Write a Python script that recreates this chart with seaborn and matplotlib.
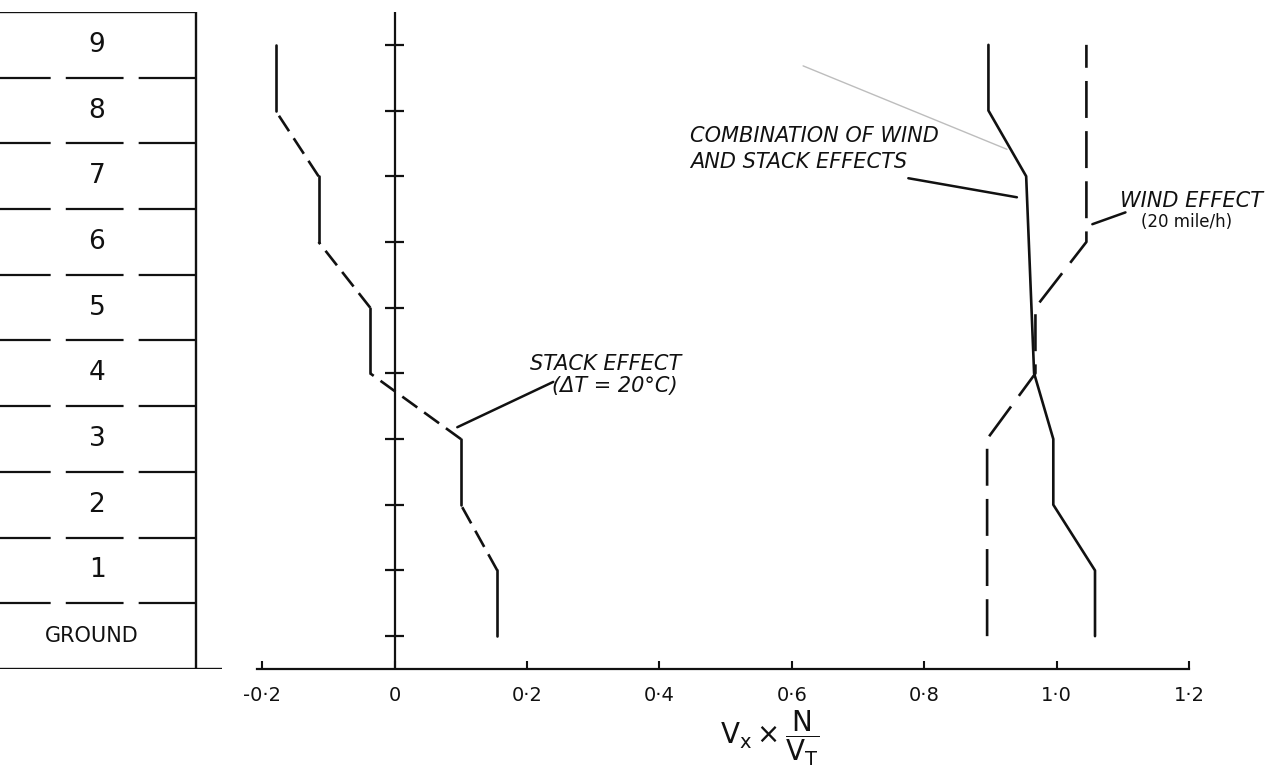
import matplotlib
matplotlib.use("Agg")
import matplotlib.pyplot as plt
import pandas as pd
import seaborn as sns

# Floor levels of the building section (0 = ground) and their labels
floor_levels = [0, 1, 2, 3, 4, 5, 6, 7, 8, 9]
floor_names = ["GROUND", "1", "2", "3", "4", "5", "6", "7", "8", "9"]

# Dimensionless flow Vx * N / VT at each level
stack_effect = [0.155, 0.155, 0.10, 0.10, -0.037, -0.037, -0.115, -0.115, -0.18, -0.18]
wind_effect = [0.895, 0.895, 0.895, 0.895, 0.968, 0.968, 1.045, 1.045, 1.045, 1.045]
combined_effect = [1.058, 1.058, 0.995, 0.995, 0.966, 0.962, 0.958, 0.954, 0.897, 0.897]

x_ticks = [-0.2, 0.0, 0.2, 0.4, 0.6, 0.8, 1.0, 1.2]
x_tick_labels = ["-0·2", "0", "0·2", "0·4", "0·6", "0·8", "1·0", "1·2"]

INK = "#111111"


def split_runs(name, values, kind_of):
    """Break a profile into runs of consecutive segments sharing a line style."""
    rows, run, prev = [], 0, None
    for i in range(len(values) - 1):
        kind = kind_of(values[i], values[i + 1])
        if kind != prev:
            run += 1
            rows.append(dict(run=f"{name}{run}", kind=kind,
                             level=floor_levels[i], value=values[i]))
        rows.append(dict(run=f"{name}{run}", kind=kind,
                         level=floor_levels[i + 1], value=values[i + 1]))
        prev = kind
    return rows


rows = []
rows += split_runs("stack", stack_effect,
                   lambda a, b: "solid" if a == b else "stack_dash")
rows += split_runs("wind", wind_effect, lambda a, b: "wind_dash")
rows += split_runs("combined", combined_effect, lambda a, b: "solid")
profiles = pd.DataFrame(rows)

sns.set_theme(style="white")
plt.rcParams["font.family"] = ["DejaVu Sans"]
plt.rcParams["mathtext.fontset"] = "dejavusans"

W, H = 1273, 769
fig = plt.figure(figsize=(W / 100, H / 100), dpi=100)
fig.patch.set_facecolor("white")

ax_bottom_px, ax_top_px = 669, 12
bottom = (H - ax_bottom_px) / H
height = (ax_bottom_px - ax_top_px) / H
y_lim = (-0.5, 9.5)

# ---- main chart -------------------------------------------------------
ax = fig.add_axes([257 / W, bottom, (1189 - 257) / W, height])
ax.set_facecolor("white")

sns.lineplot(data=profiles, x="value", y="level", units="run", style="kind",
             dashes={"solid": "", "stack_dash": (7, 3.2), "wind_dash": (14, 5)},
             estimator=None, sort=False, color=INK, lw=1.9, legend=False, ax=ax)

# zero reference line with a tick at each floor level
ax.axvline(0, color=INK, lw=1.6, zorder=1)
ax.hlines(floor_levels, -0.014, 0.014, color=INK, lw=1.6)

ax.set_xlim(-0.208, 1.2)
ax.set_ylim(*y_lim)
ax.set_yticks([])
ax.set_ylabel("")
for side in ("left", "top", "right"):
    ax.spines[side].set_visible(False)
ax.spines["bottom"].set_color(INK)
ax.spines["bottom"].set_linewidth(1.6)

ax.set_xticks(x_ticks)
ax.set_xticklabels(x_tick_labels, fontsize=14)
ax.tick_params(axis="x", direction="in", length=6, width=1.5, colors=INK,
               pad=12, bottom=True)

ax.set_xlabel(r"$\mathrm{V_x} \times \dfrac{\mathrm{N}}{\mathrm{V_T}}$",
              fontsize=20, color=INK)
ax.xaxis.set_label_coords(0.55, -0.060)

# leader lines and callouts
lead = dict(arrowstyle="-", lw=1.8, color=INK, shrinkA=0, shrinkB=0)
txt = dict(color=INK, style="italic", clip_on=False)

ax.annotate("", xy=(0.0946, 3.18), xytext=(0.2396, 3.87), arrowprops=lead)
ax.text(0.205, 4.14, "STACK EFFECT", fontsize=15, ha="left", va="center", **txt)
ax.text(0.238, 3.80, "(ΔT = 20°C)", fontsize=15, ha="left", va="center", **txt)

ax.annotate("", xy=(0.940, 6.68), xytext=(0.776, 6.97), arrowprops=lead)
ax.text(0.446, 7.61, "COMBINATION OF WIND", fontsize=15, ha="left",
        va="center", **txt)
ax.text(0.446, 7.21, "AND STACK EFFECTS", fontsize=15, ha="left",
        va="center", **txt)

ax.annotate("", xy=(1.054, 6.27), xytext=(1.104, 6.45), arrowprops=lead)
ax.text(1.096, 6.62, "WIND EFFECT", fontsize=15, ha="left", va="center", **txt)
ax.text(1.197, 6.31, "(20 mile/h)", fontsize=12, ha="center", va="center",
        color=INK, clip_on=False)

# faint pencil stroke near the combined curve
ax.plot([0.617, 0.925], [8.68, 7.41], color="#bdbdbd", lw=1.0, zorder=0)

# ---- building section -------------------------------------------------
axb = fig.add_axes([0, bottom, 222 / W, height])
axb.set_xlim(0, 222)
axb.set_ylim(*y_lim)
axb.axis("off")

wall_x = 196
axb.plot([wall_x, wall_x], list(y_lim), color=INK, lw=1.7, solid_capstyle="butt")
axb.plot([0, wall_x], [y_lim[1], y_lim[1]], color=INK, lw=1.7)
axb.plot([0, 222], [y_lim[0], y_lim[0]], color=INK, lw=1.7)

dividers = [lvl + 0.5 for lvl in floor_levels[:-1]]
axb.hlines(dividers, 0, wall_x, color=INK, lw=1.6,
           linestyles=[(3.2, (26, 6.8))] * len(dividers))

for lvl, name in zip(floor_levels, floor_names):
    if name == "GROUND":
        axb.text(92, lvl, name, fontsize=15, ha="center", va="center", color=INK)
    else:
        axb.text(97, lvl, name, fontsize=19, ha="center", va="center", color=INK)

fig.savefig("out.png", dpi=100, facecolor="white")
